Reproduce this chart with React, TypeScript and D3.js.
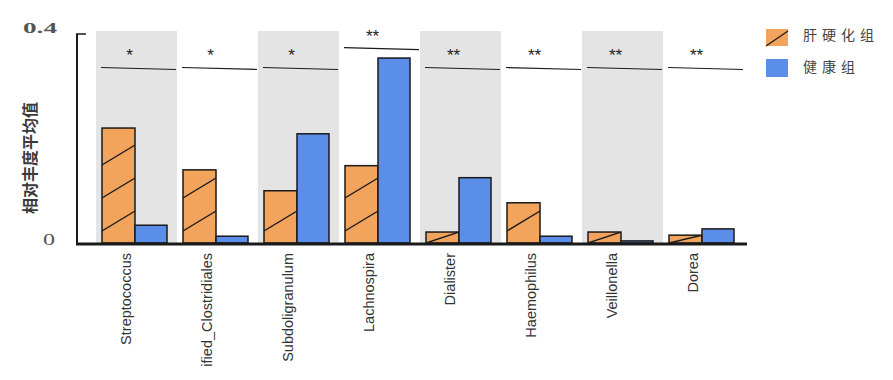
import React from "react";
import * as d3 from "d3";

const categories = [
  "Streptococcus",
  "ified_Clostridiales",
  "Subdoligranulum",
  "Lachnospira",
  "Dialister",
  "Haemophilus",
  "Veillonella",
  "Dorea",
];
const seriesNames = ["肝硬化组", "健康组"];
const cirrhosis = [0.22, 0.14, 0.1, 0.148, 0.021, 0.077, 0.021, 0.015];
const healthy = [0.034, 0.013, 0.209, 0.354, 0.125, 0.013, 0.004, 0.027];
const sigLabels = ["*", "*", "*", "**", "**", "**", "**", "**"];
const sigLevel = [0.334, 0.334, 0.334, 0.372, 0.334, 0.334, 0.334, 0.334];
const yTicks = [0, 0.4];
const yTickLabels = ["0", "0.4"];
const yLabel = "相对丰度平均值";

const ORANGE = "#f2a35c";
const BLUE = "#5b8ee8";
const STROKE = "#1a1a1a";

function hatchLines(x0: number, w: number, top: number, base: number) {
  const h = base - top;
  const rise = 20;
  const out: { x1: number; y1: number; x2: number; y2: number }[] = [];
  if (h < 24) {
    out.push({ x1: x0, y1: base, x2: x0 + w, y2: top });
    return out;
  }
  for (let k = 0; k < 10; k++) {
    const ly = base - 12 - k * 33;
    if (ly - rise < top - 8) break;
    out.push({ x1: x0, y1: ly, x2: x0 + w, y2: ly - rise });
  }
  return out;
}

export default function App() {
  const W = 893;
  const H = 380;
  const x = d3.scaleBand<string>().domain(categories).range([96, 744]).padding(0);
  const inner = d3.scaleBand<string>().domain(["c", "h"]).range([6, 72]).padding(0);
  const y = d3.scaleLinear().domain([0, 0.4]).range([243, 34]);
  const bw = inner.bandwidth();
  const base = y(0);

  return (
    <svg
      width={W}
      height={H}
      style={{ position: "absolute", left: 0, top: 0, background: "#fff" }}
    >
      <defs>
        {categories.map((c, i) => {
          const x0 = x(c)! + inner("c")!;
          return (
            <clipPath id={"clip" + i} key={"cp" + i}>
              <rect x={x0} y={y(cirrhosis[i])} width={bw} height={base - y(cirrhosis[i])} />
            </clipPath>
          );
        })}
      </defs>
      {/* shaded bands */}
      {categories.map((c, i) =>
        i % 2 === 0 ? (
          <rect key={"bg" + c} x={x(c)} y={31} width={x.bandwidth()} height={base - 31} fill="#e4e4e4" />
        ) : null
      )}
      {/* bars */}
      {categories.map((c, i) => {
        const x0 = x(c)! + inner("c")!;
        const x1 = x(c)! + inner("h")!;
        const top = y(cirrhosis[i]);
        return (
          <g key={"b" + c}>
            <rect x={x0} y={top} width={bw} height={base - top} fill={ORANGE} />
            <g clipPath={`url(#clip${i})`}>
              {hatchLines(x0, bw, top, base).map((l, k) => (
                <line key={k} {...l} stroke={STROKE} strokeWidth={1.4} />
              ))}
            </g>
            <rect x={x0} y={top} width={bw} height={base - top} fill="none" stroke={STROKE} strokeWidth={1.5} />
            <rect x={x1} y={y(healthy[i])} width={bw - 1} height={base - y(healthy[i])} fill={BLUE} stroke={STROKE} strokeWidth={1.5} />
          </g>
        );
      })}
      {/* significance */}
      {categories.map((c, i) => {
        const ly = y(sigLevel[i]);
        const sx = x(c)! + 5;
        const ex = x(c)! + x.bandwidth() - 1;
        return (
          <g key={"s" + c}>
            <line x1={sx} y1={ly - 1} x2={ex} y2={ly + 1} stroke={STROKE} strokeWidth={1.2} />
            <text
              x={x(c)! + x.bandwidth() / 2 - 7}
              y={ly - 7}
              textAnchor="middle"
              fontFamily="Liberation Sans, Arial, sans-serif"
              fontSize={17}
              fill="#222"
            >
              {sigLabels[i]}
            </text>
          </g>
        );
      })}
      {/* axes */}
      <line x1={77} y1={34} x2={77} y2={244} stroke={STROKE} strokeWidth={2} />
      <line x1={76} y1={34} x2={86} y2={34} stroke={STROKE} strokeWidth={1.5} />
      <line x1={76} y1={244} x2={747} y2={244} stroke={STROKE} strokeWidth={3} />
      {yTicks.map((t, i) =>
        t === 0 ? (
          <text
            key={"yt" + i}
            x={43}
            y={y(t) + 2}
            textLength={12}
            lengthAdjust="spacingAndGlyphs"
            fontFamily="Liberation Serif, Times New Roman, serif"
            fontSize={16}
            fill="#555"
          >
            {yTickLabels[i]}
          </text>
        ) : (
          <text
            key={"yt" + i}
            x={23}
            y={y(t) - 1}
            textLength={34}
            lengthAdjust="spacingAndGlyphs"
            fontFamily="Liberation Serif, Times New Roman, serif"
            fontSize={14}
            fontWeight="bold"
            fill="#555"
          >
            {yTickLabels[i]}
          </text>
        )
      )}
      <text
        transform="translate(32,158) rotate(-90)"
        textAnchor="middle"
        dominantBaseline="middle"
        fontFamily="Noto Sans CJK SC, sans-serif"
        fontSize={16}
        fontWeight="bold"
        fill="#3a3a3a"
      >
        {yLabel}
      </text>
      {/* x labels */}
      {categories.map((c) => (
        <text
          key={"xl" + c}
          transform={`translate(${x(c)! + x.bandwidth() / 2 - 9},253) rotate(-90)`}
          textAnchor="end"
          dominantBaseline="middle"
          fontFamily="Liberation Sans, Arial, sans-serif"
          fontSize={14.5}
          fill="#333"
        >
          {c}
        </text>
      ))}
      {/* legend */}
      <rect x={766} y={29} width={22} height={17} fill={ORANGE} />
      <line x1={766} y1={46} x2={788} y2={31} stroke={STROKE} strokeWidth={1.3} />
      <rect x={766} y={59} width={22} height={18} fill={BLUE} />
      {seriesNames.map((s, i) => (
        <text
          key={"lg" + s}
          x={803}
          y={36 + i * 32}
          dominantBaseline="middle"
          fontFamily="Noto Sans CJK SC, sans-serif"
          fontSize={14}
          letterSpacing={5}
          fill="#444"
        >
          {s}
        </text>
      ))}
    </svg>
  );
}
